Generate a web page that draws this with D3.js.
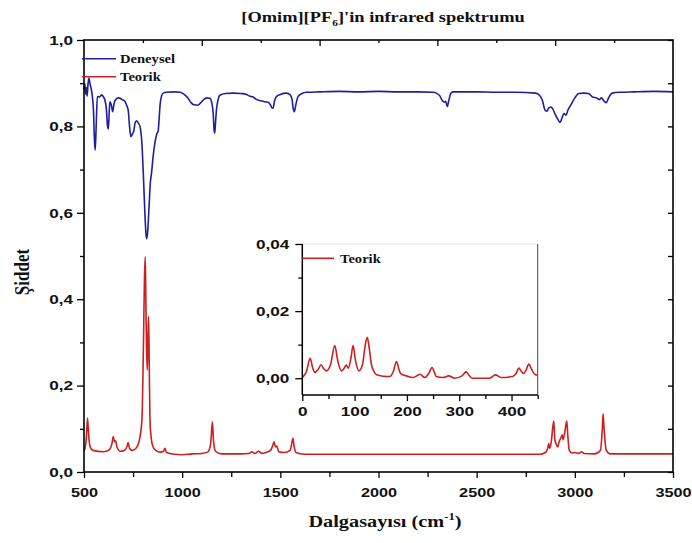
<!DOCTYPE html>
<html>
<head>
<meta charset="utf-8">
<script src="https://cdnjs.cloudflare.com/ajax/libs/d3/7.8.5/d3.min.js"></script>
<style>
  html, body { margin: 0; padding: 0; background: #fff; }
  svg { display: block; }
</style>
</head>
<body>
<svg id="chart" width="692" height="543"></svg>
<script>
// Experimental IR spectrum: [wavenumber cm-1, intensity]
const deneysel = [
  [500,0.885],[504,0.90],[508,0.875],[512,0.89],[516,0.87],[520,0.895],[525,0.912],[530,0.90],
  [540,0.878],[548,0.84],[553,0.77],[557,0.745],[562,0.80],[568,0.869],[580,0.868],[590,0.873],
  [600,0.868],[607,0.86],[614,0.84],[620,0.80],[624,0.794],[628,0.83],[632,0.857],[640,0.848],
  [646,0.834],[652,0.85],[658,0.86],[675,0.866],[695,0.862],[708,0.858],[718,0.848],[725,0.838],
  [732,0.80],[739,0.776],[746,0.782],[754,0.79],[760,0.808],[768,0.813],[776,0.808],[785,0.80],
  [795,0.76],[802,0.692],[810,0.60],[816,0.55],[820,0.54],[825,0.56],[832,0.62],[838,0.67],
  [844,0.692],[852,0.73],[861,0.761],[870,0.782],[878,0.79],[883,0.82],[888,0.852],[895,0.87],
  [903,0.877],[920,0.879],[960,0.88],[990,0.879],[1010,0.874],[1030,0.865],[1045,0.855],[1060,0.85],
  [1080,0.849],[1095,0.855],[1107,0.861],[1125,0.866],[1141,0.865],[1152,0.852],[1158,0.83],[1163,0.79],
  [1166,0.784],[1170,0.81],[1175,0.84],[1183,0.862],[1192,0.872],[1220,0.876],[1259,0.877],[1300,0.876],
  [1327,0.874],[1345,0.87],[1361,0.868],[1380,0.862],[1395,0.86],[1420,0.857],[1437,0.856],[1450,0.85],
  [1458,0.842],[1463,0.842],[1470,0.858],[1480,0.869],[1500,0.874],[1531,0.877],[1550,0.873],[1560,0.862],
  [1566,0.84],[1572,0.834],[1578,0.848],[1590,0.869],[1610,0.876],[1632,0.879],[1700,0.88],[1800,0.881],
  [1900,0.88],[2000,0.881],[2100,0.88],[2200,0.88],[2280,0.879],[2310,0.872],[2325,0.86],[2335,0.856],
  [2342,0.858],[2350,0.846],[2358,0.86],[2368,0.876],[2380,0.88],[2500,0.88],[2600,0.879],[2700,0.879],
  [2800,0.877],[2820,0.872],[2835,0.86],[2848,0.838],[2858,0.835],[2866,0.842],[2878,0.845],[2888,0.84],
  [2900,0.828],[2915,0.815],[2925,0.809],[2935,0.82],[2945,0.83],[2955,0.826],[2965,0.838],[2980,0.85],
  [3000,0.866],[3020,0.876],[3045,0.877],[3070,0.876],[3090,0.868],[3110,0.866],[3125,0.862],[3135,0.866],
  [3150,0.858],[3160,0.855],[3172,0.866],[3190,0.877],[3230,0.879],[3300,0.88],[3400,0.881],[3500,0.88]
];

// Calculated IR spectrum, 500-3500 cm-1
const teorik = [
  [500,0.05],[505,0.055],[512,0.08],[518,0.125],[523,0.09],[530,0.06],[545,0.05],[600,0.047],
  [630,0.052],[642,0.065],[649,0.082],[655,0.07],[661,0.072],[668,0.058],[685,0.048],[705,0.05],
  [718,0.058],[725,0.068],[732,0.055],[745,0.05],[765,0.055],[780,0.07],[795,0.12],[803,0.30],
  [808,0.45],[812,0.498],[815,0.40],[818,0.30],[822,0.236],[825,0.30],[829,0.36],[832,0.26],
  [836,0.12],[842,0.08],[850,0.06],[865,0.05],[890,0.046],[905,0.048],[912,0.055],[920,0.045],
  [960,0.041],[1000,0.04],[1050,0.042],[1100,0.043],[1130,0.046],[1145,0.065],[1154,0.116],[1160,0.07],
  [1170,0.048],[1200,0.042],[1300,0.042],[1340,0.043],[1355,0.047],[1370,0.043],[1390,0.048],[1405,0.043],
  [1430,0.046],[1450,0.05],[1462,0.062],[1468,0.07],[1475,0.058],[1482,0.06],[1492,0.047],[1520,0.045],
  [1550,0.05],[1560,0.07],[1564,0.078],[1570,0.06],[1580,0.045],[1620,0.041],[2000,0.041],[2500,0.041],
  [2820,0.041],[2850,0.045],[2862,0.055],[2867,0.066],[2872,0.055],[2880,0.07],[2888,0.105],[2893,0.118],
  [2898,0.075],[2905,0.065],[2913,0.058],[2920,0.07],[2930,0.08],[2935,0.086],[2940,0.075],[2948,0.09],
  [2955,0.11],[2959,0.118],[2964,0.085],[2972,0.05],[2985,0.044],[3000,0.045],[3020,0.043],[3035,0.047],
  [3045,0.043],[3100,0.042],[3130,0.05],[3140,0.10],[3144,0.135],[3149,0.10],[3160,0.05],[3180,0.042],
  [3500,0.042]
];

// Calculated spectrum, low-frequency region 0-450 cm-1 (inset)
const teorikDusuk = [
  [0,0.0002],[8,0.002],[15,0.0059],[20,0.003],[24,0.0017],[30,0.0025],[36,0.004],[41,0.0028],
  [46,0.0022],[54,0.004],[62,0.0097],[68,0.005],[75,0.0022],[80,0.003],[84,0.0039],[88,0.003],
  [93,0.006],[97,0.0097],[102,0.005],[108,0.0022],[115,0.004],[120,0.0095],[124,0.0122],[128,0.009],
  [132,0.0042],[137,0.002],[142,0.001],[155,0.0006],[167,0.0005],[174,0.002],[180,0.005],[185,0.0025],
  [188,0.0014],[199,0.0007],[212,0.0002],[225,0.0012],[234,0.0002],[242,0.0015],[248,0.0032],[253,0.0015],
  [256,0.0005],[269,0.0002],[280,0.0007],[291,0.0],[306,0.0008],[313,0.0019],[319,0.0008],[325,0.0],
  [358,0.0],[369,0.001],[380,0.0002],[402,0.0005],[409,0.0015],[414,0.003],[419,0.002],[423,0.0014],
  [428,0.0025],[433,0.0042],[438,0.0028],[444,0.0012],[449,0.0009]
];

const xMajor = [500, 1000, 1500, 2000, 2500, 3000, 3500];
const xMinor = [750, 1250, 1750, 2250, 2750, 3250];
const xTopMajor = [1100, 1700, 2300, 2900];
const xTopMinor = [800, 1400, 2000, 2600, 3200];
const yMajor = [0.0, 0.2, 0.4, 0.6, 0.8, 1.0];
const yMinor = [0.1, 0.3, 0.5, 0.7, 0.9];
const insetXMajor = [0, 100, 200, 300, 400];
const insetXMinor = [50, 150, 250, 350, 450];
const insetYMajor = [0.00, 0.02, 0.04];
const insetYMinor = [0.01, 0.03];

const titleMain = "[Omim][PF";
const titleSub = "6";
const titleRest = "]'in infrared spektrumu";
const xTitle = "Dalgasayısı (cm";
const xTitleSup = "-1";
const yTitle = "Şiddet";
const seriesNames = ["Deneysel", "Teorik"];

const BLUE = "#1e1e9e";
const RED = "#cc2020";
const SERIF = "'Liberation Serif', 'Times New Roman', serif";
const SANS = "'Liberation Sans', Arial, sans-serif";
const S = 1.27; // horizontal text stretch

const svg = d3.select("#chart");
const trFmt = d3.formatLocale({decimal: ",", thousands: "", grouping: [3], currency: ["", ""]});
const f1 = trFmt.format(".1f");
const f2 = trFmt.format(".2f");

// main plot area
const M = {left: 84, right: 673, top: 40, bottom: 472};
const x = d3.scaleLinear().domain([500, 3500]).range([M.left, M.right]);
const y = d3.scaleLinear().domain([0, 1.0]).range([M.bottom, M.top]);

function styleTicks(g) {
  g.select(".domain").remove();
  g.selectAll(".tick line").attr("stroke", "#000").attr("stroke-width", 1.3);
}
function stretchLabels(g, size, xOff) {
  g.selectAll(".tick text")
    .attr("font-family", SANS).attr("font-weight", "bold").attr("font-size", size)
    .attr("fill", "#111")
    .attr("transform", `scale(${S},1)`);
  if (xOff !== undefined) g.selectAll(".tick text").attr("x", xOff / S);
}

// curves
const line = d3.line().x(d => x(d[0])).y(d => y(d[1])).curve(d3.curveMonotoneX);
svg.append("path").datum(teorik).attr("d", line)
  .attr("fill", "none").attr("stroke", RED).attr("stroke-width", 1.6);
svg.append("path").datum(deneysel).attr("d", line)
  .attr("fill", "none").attr("stroke", BLUE).attr("stroke-width", 1.6);

// bottom axis
const gxb = svg.append("g").attr("transform", `translate(0,${M.bottom})`)
  .call(d3.axisBottom(x).tickValues(xMajor).tickSize(6).tickPadding(10).tickFormat(d => String(d)));
styleTicks(gxb); stretchLabels(gxb, 12.8);
const gxbm = svg.append("g").attr("transform", `translate(0,${M.bottom})`)
  .call(d3.axisBottom(x).tickValues(xMinor).tickSize(5).tickFormat(""));
styleTicks(gxbm);

// top axis (inward ticks)
const gxt = svg.append("g").attr("transform", `translate(0,${M.top})`)
  .call(d3.axisBottom(x).tickValues(xTopMajor).tickSize(6).tickFormat(""));
styleTicks(gxt);
const gxtm = svg.append("g").attr("transform", `translate(0,${M.top})`)
  .call(d3.axisBottom(x).tickValues(xTopMinor).tickSize(3).tickFormat(""));
styleTicks(gxtm);

// left axis
const gyl = svg.append("g").attr("transform", `translate(${M.left},0)`)
  .call(d3.axisLeft(y).tickValues(yMajor).tickSize(7).tickFormat(f1));
styleTicks(gyl); stretchLabels(gyl, 13.5, -11);
const gylm = svg.append("g").attr("transform", `translate(${M.left},0)`)
  .call(d3.axisLeft(y).tickValues(yMinor).tickSize(4).tickFormat(""));
styleTicks(gylm);

// right axis (inward ticks)
const gyr = svg.append("g").attr("transform", `translate(${M.right},0)`)
  .call(d3.axisLeft(y).tickValues(yMajor.concat(yMinor)).tickSize(5).tickFormat(""));
styleTicks(gyr);

// frame
svg.append("rect")
  .attr("x", M.left).attr("y", M.top)
  .attr("width", M.right - M.left).attr("height", M.bottom - M.top)
  .attr("fill", "none").attr("stroke", "#000").attr("stroke-width", 1.6);

// legend
const legend = svg.append("g");
[[BLUE, 58.7, seriesNames[0]], [RED, 76.7, seriesNames[1]]].forEach(([c, ly, name]) => {
  legend.append("line").attr("x1", 82).attr("x2", 116).attr("y1", ly).attr("y2", ly)
    .attr("stroke", c).attr("stroke-width", 1.6);
  legend.append("text").text(name)
    .attr("transform", `translate(120,${ly + 4.2}) scale(${S},1)`)
    .attr("font-family", SERIF).attr("font-weight", "bold").attr("font-size", 11.5).attr("fill", "#111");
});

// title
const title = svg.append("text")
  .attr("transform", `translate(383,22) scale(${S},1)`)
  .attr("text-anchor", "middle")
  .attr("font-family", SERIF).attr("font-weight", "bold").attr("font-size", 14.5).attr("fill", "#111");
title.append("tspan").text(titleMain);
title.append("tspan").text(titleSub).attr("font-size", 9).attr("dy", 4);
title.append("tspan").text(titleRest).attr("dy", -4);

// axis titles
const xt = svg.append("text")
  .attr("transform", `translate(385,527) scale(${S},1)`)
  .attr("text-anchor", "middle")
  .attr("font-family", SERIF).attr("font-weight", "bold").attr("font-size", 16).attr("fill", "#111");
xt.append("tspan").text(xTitle);
xt.append("tspan").text(xTitleSup).attr("font-size", 10).attr("dy", -7);
xt.append("tspan").text(")").attr("dy", 7);

svg.append("text").text(yTitle)
  .attr("transform", `translate(29,272) scale(${S},1) rotate(-90)`)
  .attr("text-anchor", "middle")
  .attr("font-family", SERIF).attr("font-weight", "bold").attr("font-size", 17).attr("fill", "#111");

// inset
const I = {left: 302.3, right: 537.7, top: 244, bottom: 395};
const xi = d3.scaleLinear().domain([0, 450]).range([I.left, I.right]);
const yi = d3.scaleLinear().domain([-0.005, 0.04]).range([I.bottom, I.top]);
const inset = svg.append("g");
inset.append("rect").attr("x", I.left).attr("y", I.top)
  .attr("width", I.right - I.left).attr("height", I.bottom - I.top).attr("fill", "#fff");
inset.append("line").attr("x1", I.left).attr("x2", I.right).attr("y1", I.top).attr("y2", I.top)
  .attr("stroke", "#e4e4e4").attr("stroke-width", 1);
inset.append("line").attr("x1", I.right).attr("x2", I.right).attr("y1", I.top).attr("y2", I.bottom)
  .attr("stroke", "#444").attr("stroke-width", 1);

const lineI = d3.line().x(d => xi(d[0])).y(d => yi(d[1])).curve(d3.curveMonotoneX);
inset.append("path").datum(teorikDusuk).attr("d", lineI)
  .attr("fill", "none").attr("stroke", RED).attr("stroke-width", 1.6);

const gib = inset.append("g").attr("transform", `translate(0,${I.bottom})`)
  .call(d3.axisBottom(xi).tickValues(insetXMajor).tickSize(6).tickPadding(5).tickFormat(d => String(d)));
styleTicks(gib); stretchLabels(gib, 13.5);
const gibm = inset.append("g").attr("transform", `translate(0,${I.bottom})`)
  .call(d3.axisBottom(xi).tickValues(insetXMinor).tickSize(4).tickFormat(""));
styleTicks(gibm);
const gil = inset.append("g").attr("transform", `translate(${I.left},0)`)
  .call(d3.axisLeft(yi).tickValues(insetYMajor).tickSize(7).tickFormat(f2));
styleTicks(gil); stretchLabels(gil, 13.5, -13);
const gilm = inset.append("g").attr("transform", `translate(${I.left},0)`)
  .call(d3.axisLeft(yi).tickValues(insetYMinor).tickSize(4).tickFormat(""));
styleTicks(gilm);

inset.append("line").attr("x1", I.left).attr("x2", I.left).attr("y1", I.top).attr("y2", I.bottom)
  .attr("stroke", "#000").attr("stroke-width", 1.5);
inset.append("line").attr("x1", I.left).attr("x2", I.right).attr("y1", I.bottom).attr("y2", I.bottom)
  .attr("stroke", "#000").attr("stroke-width", 1.5);

// inset legend
inset.append("line").attr("x1", I.left).attr("x2", 334).attr("y1", 258.3).attr("y2", 258.3)
  .attr("stroke", RED).attr("stroke-width", 1.6);
inset.append("text").text(seriesNames[1])
  .attr("transform", `translate(340,262.5) scale(${S},1)`)
  .attr("font-family", SERIF).attr("font-weight", "bold").attr("font-size", 11.5).attr("fill", "#111");
</script>
</body>
</html>
